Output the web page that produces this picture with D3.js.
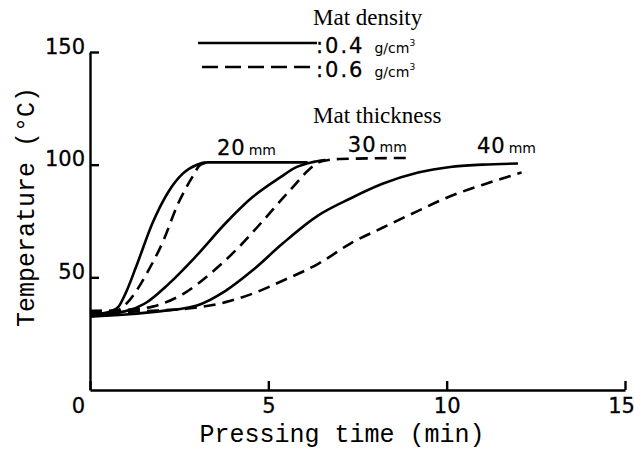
<!DOCTYPE html>
<html>
<head>
<meta charset="utf-8">
<script src="https://cdn.jsdelivr.net/npm/d3@7/dist/d3.min.js"></script>
<style>
  body { margin: 0; background: #fff; }
  .num { font-family: "DejaVu Sans", Arial, sans-serif; font-size: 21px; fill: #000; stroke: #000; stroke-width: 0.3px; }
  .unit { font-family: "DejaVu Sans", Arial, sans-serif; font-size: 14px; fill: #000; }
  .title { font-family: "Liberation Serif", "Times New Roman", serif; font-size: 23px; fill: #000; }
  .axis-title { font-family: "Courier New", "Liberation Mono", monospace; font-size: 25px; fill: #000; }
  .curve { fill: none; stroke: #000; stroke-width: 2.6px; stroke-linejoin: round; }
  .dash { stroke-dasharray: 12 7; }
</style>
</head>
<body>
<div class="vis"></div>
<script>
// axis ticks
var xTicks = [0, 5, 10, 15];
var yTicks = [50, 100, 150];

// legend / labels
var densityLabels = ["0.4", "0.6"];
var thicknessLabels = ["20", "30", "40"];

// [time (min), temperature (°C)]
var solid20 = [[0, 33.5], [0.5, 34.5], [0.8, 37], [1.0, 43], [1.3, 55], [1.75, 74], [2.2, 88], [2.6, 96], [3.0, 100], [3.3, 101], [6.1, 101]];
var dashed20 = [[0, 35], [0.7, 35], [1.0, 38], [1.3, 44], [1.6, 52], [2.05, 66], [2.45, 82], [2.85, 94], [3.1, 100], [3.3, 101]];
var solid30 = [[0, 33], [1.0, 35], [1.55, 38.5], [2.2, 47], [2.95, 59], [3.8, 74], [4.55, 85.5], [5.3, 94], [5.8, 99], [6.2, 101], [6.6, 102]];
var dashed30 = [[0, 35], [1.0, 35.5], [1.75, 37], [2.65, 43], [3.4, 52], [4.15, 63], [4.9, 76], [5.4, 85], [5.8, 92], [6.15, 98], [6.5, 101.5], [7.0, 102.5], [9.0, 103]];
var solid40 = [[0, 32.5], [1.0, 33.5], [2.0, 35], [3.0, 37.5], [3.8, 44], [4.55, 53], [5.4, 65], [6.4, 77.5], [7.3, 85], [8.2, 91.5], [9.2, 96.5], [10.1, 99], [11.0, 100], [12.0, 100.5]];
var dashed40 = [[0, 34], [1.5, 35], [2.95, 36.5], [3.8, 39], [4.6, 43], [5.4, 48.5], [6.4, 56], [7.3, 65], [8.2, 72], [9.2, 79.5], [10.1, 86], [11.0, 91], [12.1, 96.5]];

var chart = {

  hold: {},

  setUp: function(){
    chart.hold.svg = d3.select(".vis").append("svg")
      .attr("width", 634)
      .attr("height", 451);

    chart.hold.x = d3.scaleLinear().domain([0, 15]).range([90, 625]);
    chart.hold.y = d3.scaleLinear().domain([0, 150]).range([390, 52]);

    chart.drawAxes();
    chart.drawCurves();
    chart.drawLabels();
  },

  drawAxes: function(){
    var svg = chart.hold.svg, x = chart.hold.x, y = chart.hold.y;

    var gy = svg.append("g")
      .attr("transform", "translate(90,0)")
      .call(d3.axisLeft(y).tickValues(yTicks).tickSize(-9).tickSizeOuter(0).tickPadding(5));

    var gx = svg.append("g")
      .attr("transform", "translate(0,390)")
      .call(d3.axisBottom(x).tickValues(xTicks).tickSize(-9).tickSizeOuter(0).tickPadding(8));

    [gx, gy].forEach(function(g){
      g.select(".domain").attr("stroke", "#000").attr("stroke-width", 2.4);
      g.selectAll(".tick line").attr("stroke", "#000").attr("stroke-width", 2.4);
      g.selectAll(".tick text").attr("class", "num").attr("font-family", null).attr("font-size", null);
    });
    gy.selectAll(".tick text").attr("dy", "0.05em");
    // the x "0" sits left of the corner, the "15" pulled in from the edge
    gx.selectAll(".tick text").attr("dx", function(d){ return d === 0 ? -12 : (d === 15 ? -4 : 0); });

    svg.append("text")
      .attr("class", "axis-title")
      .attr("text-anchor", "middle")
      .attr("transform", "translate(34,207) rotate(-90)")
      .text("Temperature (°C)");

    svg.append("text")
      .attr("class", "axis-title")
      .attr("text-anchor", "middle")
      .attr("x", 342)
      .attr("y", 442)
      .text("Pressing time (min)");
  },

  drawCurves: function(){
    var x = chart.hold.x, y = chart.hold.y;
    var line = d3.line()
      .x(function(d){ return x(d[0]); })
      .y(function(d){ return y(d[1]); })
      .curve(d3.curveMonotoneX);

    var series = [
      { values: solid20, dashed: false },
      { values: dashed20, dashed: true },
      { values: solid30, dashed: false },
      { values: dashed30, dashed: true },
      { values: solid40, dashed: false },
      { values: dashed40, dashed: true }
    ];

    chart.hold.svg.append("g").selectAll("path")
      .data(series)
      .enter()
      .append("path")
        .attr("class", function(d){ return d.dashed ? "curve dash" : "curve"; })
        .attr("d", function(d){ return line(d.values); });
  },

  drawLabels: function(){
    var svg = chart.hold.svg, x = chart.hold.x, y = chart.hold.y;

    svg.append("text").attr("class", "title").attr("x", 313).attr("y", 25).text("Mat density");

    var leg = svg.append("g").selectAll("g")
      .data(densityLabels)
      .enter()
      .append("g")
        .attr("transform", function(d, i){ return "translate(0," + (i * 24) + ")"; });

    leg.append("line")
      .attr("class", function(d, i){ return i ? "curve dash" : "curve"; })
      .attr("x1", function(d, i){ return i ? 202 : 198; })
      .attr("x2", function(d, i){ return i ? 312 : 317; })
      .attr("y1", 43).attr("y2", 43)
      .style("stroke-dasharray", function(d, i){ return i ? "16 7" : null; });

    var lt = leg.append("text").attr("x", 316).attr("y", 53);
    lt.append("tspan").attr("class", "num").style("letter-spacing", "2px").text(function(d){ return ":" + d; });
    lt.append("tspan").attr("class", "unit").attr("dx", 10).text("g/cm");
    lt.append("tspan").attr("class", "unit").style("font-size", "9px").attr("dy", -7).text("3");

    svg.append("text").attr("class", "title").attr("x", 313).attr("y", 123).text("Mat thickness");

    var thickPos = [[3.56, 104.3], [7.23, 105.6], [10.85, 105.2]];
    var tl = svg.append("g").selectAll("text")
      .data(thicknessLabels)
      .enter()
      .append("text")
        .attr("x", function(d, i){ return x(thickPos[i][0]); })
        .attr("y", function(d, i){ return y(thickPos[i][1]); });
    tl.append("tspan").attr("class", "num").style("letter-spacing", "1px").text(function(d){ return d; });
    tl.append("tspan").attr("class", "unit").attr("dx", 3).text("mm");
  }
};

chart.setUp();
</script>
</body>
</html>
